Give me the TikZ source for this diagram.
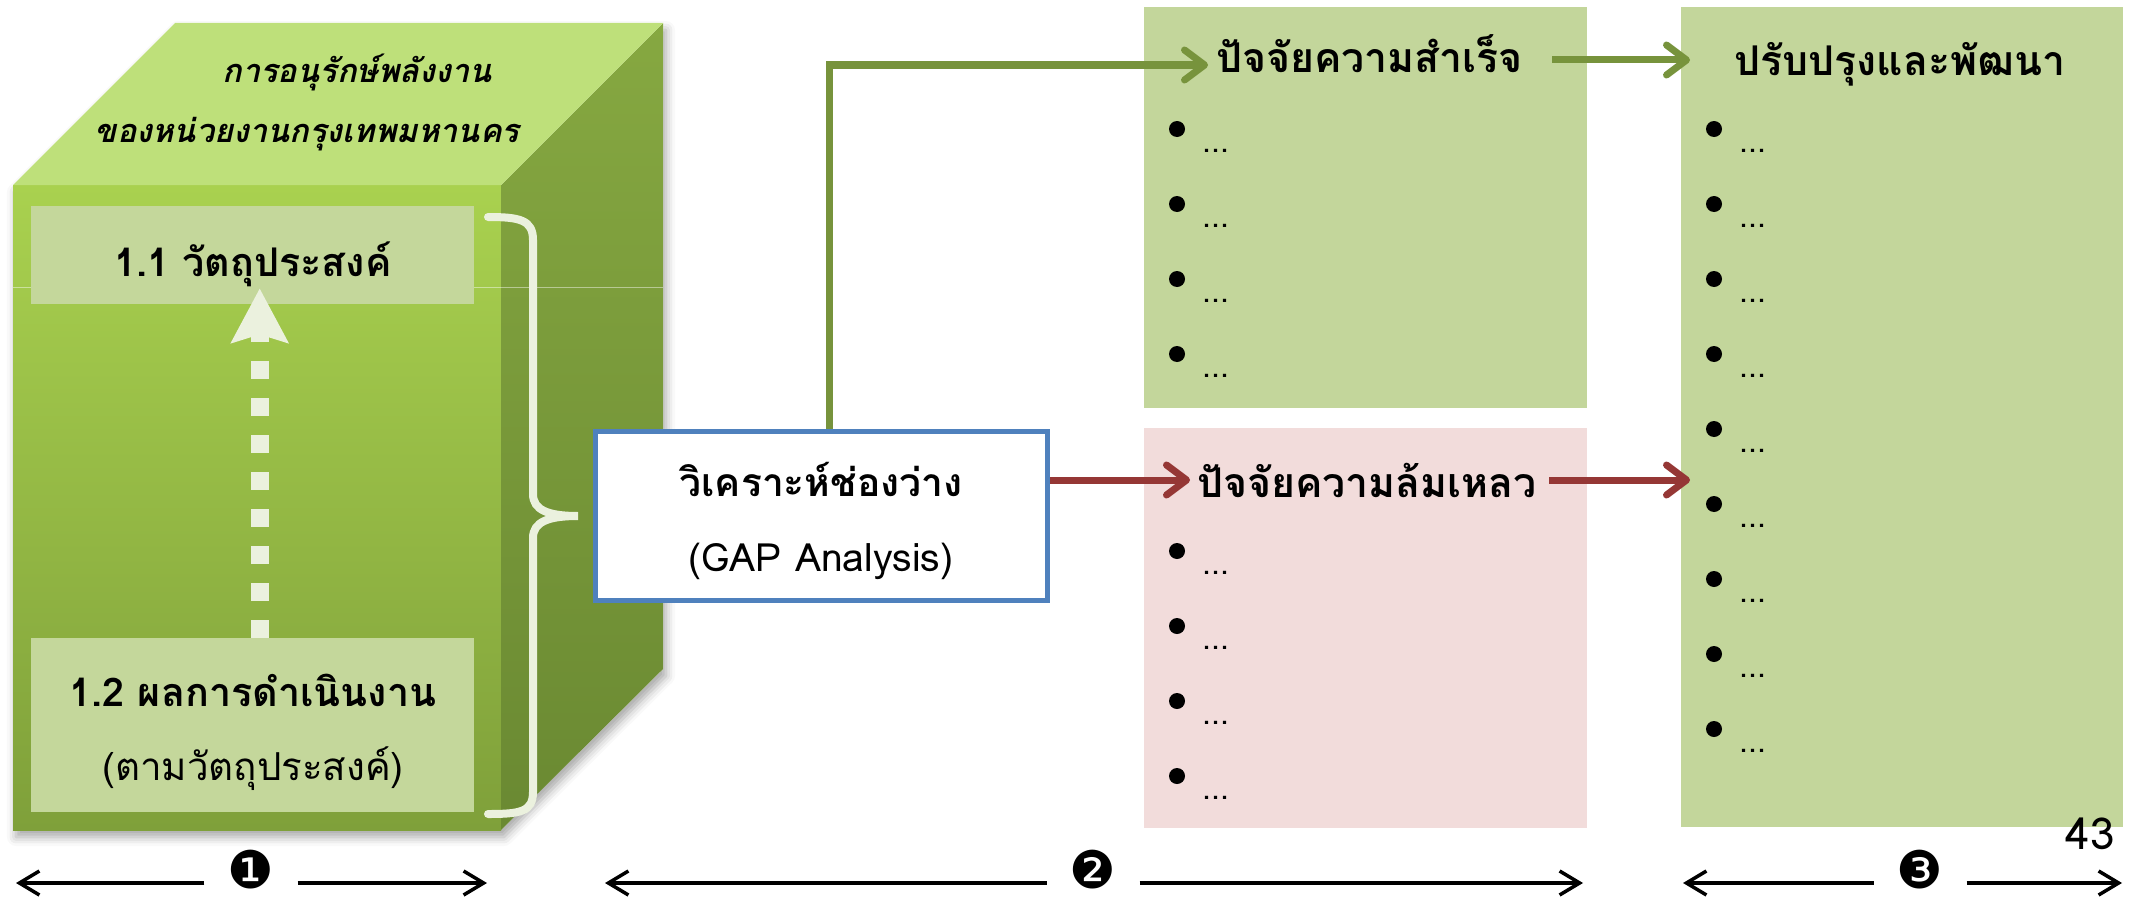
\documentclass[tikz,border=0pt]{standalone}
\usepackage{fontspec}
\usetikzlibrary{arrows.meta,shadows.blur,calc}
\newfontfamily\thai[Script=Thai]{Loma}
\newfontfamily\thaisl[Script=Thai,FakeSlant=0.22]{Loma}
\newfontfamily\dingfont{DejaVu Sans}
\newcommand{\fsz}[1]{\fontsize{#1}{#1}\selectfont}
\definecolor{olive}{HTML}{77933C}
\definecolor{darkred}{HTML}{953735}
\definecolor{gapblue}{HTML}{4F81BD}
\definecolor{lightolive}{HTML}{C3D69B}
\definecolor{pinkfill}{HTML}{F2DCDB}
\definecolor{cubetop}{HTML}{BEE07A}
\definecolor{fronttop}{HTML}{A9D14F}
\definecolor{frontbot}{HTML}{7FA03A}
\definecolor{sidetop}{HTML}{86A841}
\definecolor{sidebot}{HTML}{6A8932}
\definecolor{paleline}{HTML}{EBF1DE}
\definecolor{innerbox}{HTML}{C4D79B}
\begin{document}
\begin{tikzpicture}[x=1pt,y=-1pt,
  titlef/.style={font=\thai\bfseries\fsz{#1}, inner sep=0pt},
  slantf/.style={font=\thaisl\bfseries\fsz{#1}, inner sep=0pt},
  plainf/.style={font=\thai\fsz{#1}, inner sep=0pt},
  panel/.style={draw=none, inner sep=0pt, anchor=north west},
  oliveline/.style={draw=olive, line width=7pt, -{Straight Barb[length=20pt,width=30pt,round]}},
  redline/.style={draw=darkred, line width=7pt, -{Straight Barb[length=20pt,width=30pt,round]}},
  dimline/.style={line width=3.5pt, -{Straight Barb[length=20pt,width=24pt]}},
  numf/.style={font=\dingfont\fsz{52}, inner sep=0pt, inner xsep=23pt},
  bulletdot/.style={fill=black},
  dotsf/.style={font=\thai\fsz{32}, inner sep=0pt, anchor=base west}
]
\useasboundingbox (0,0) rectangle (2140,899);

% ---------- cube ----------
\fill[white, blur shadow={shadow xshift=3pt, shadow yshift=-7pt, shadow blur radius=9pt, shadow opacity=35}]
  (13,185) -- (175,23) -- (663,23) -- (663,669) -- (501,830) -- (13,830) -- cycle;
\shade[top color=fronttop, bottom color=frontbot] (13,185) rectangle (501,830);
\shade[top color=sidetop, bottom color=sidebot] (501,185) -- (663,23) -- (663,669) -- (501,830) -- cycle;
\fill[cubetop] (13,185) -- (175,23) -- (663,23) -- (501,185) -- cycle;
\draw[white, opacity=0.45, line width=1pt] (13,287) -- (663,287);

\node[slantf=32.5, anchor=base] (ct1) at (357,82) {การอนุรักษ์พลังงาน};
\node[slantf=32.5, anchor=base] (ct2) at (307,142) {ของหน่วยงานกรุงเทพมหานคร};

\node[panel, fill=innerbox, minimum width=443pt, minimum height=98pt] (obj) at (31,206) {};
\node[panel, fill=innerbox, minimum width=443pt, minimum height=174pt] (res) at (31,638) {};
\node[titlef=39.5, anchor=base] (objt) at (253,276) {1.1 วัตถุประสงค์};
\node[titlef=39.5, anchor=base] (rest1) at (253,706) {1.2 ผลการดำเนินงาน};
\node[plainf=38.5, anchor=base] (rest2) at (253,780) {(ตามวัตถุประสงค์)};

\draw[paleline, line width=18pt, dash pattern=on 18pt off 19pt,
  -{Stealth[length=54pt,width=56pt,inset=8pt]}] ([xshift=7pt]res.north) -- ([xshift=7pt,yshift=16pt]obj.south);

\draw[paleline, line width=8pt, line cap=round]
  (488,217) .. controls (520,217) and (533,220) .. (533,240) -- (533,494)
  .. controls (533,510) and (548,516) .. (578,516)
  .. controls (548,516) and (533,522) .. (533,538) -- (533,792)
  .. controls (533,812) and (520,814) .. (488,814);

% ---------- GAP box ----------
\node[draw=gapblue, line width=5pt, fill=white, minimum width=452pt, minimum height=169pt, inner sep=0pt] (gap) at (821.5,516) {};
\node[titlef=39, anchor=base] (gapt1) at (821,496) {วิเคราะห์ช่องว่าง};
\node[plainf=39, anchor=base] (gapt2) at (821,571) {(GAP Analysis)};

% ---------- right panels ----------
\node[panel, fill=lightolive, minimum width=443pt, minimum height=401pt] (sbox) at (1144,7) {};
\node[panel, fill=pinkfill, minimum width=443pt, minimum height=400pt] (fbox) at (1144,428) {};
\node[panel, fill=lightolive, minimum width=442pt, minimum height=820pt] (rbox) at (1681,7) {};

\node[titlef=41, anchor=base west] (succ) at (1216,73) {ปัจจัยความสำเร็จ};
\node[titlef=41, anchor=base west] (fail) at (1197,497) {ปัจจัยความล้มเหลว};
\node[titlef=41, anchor=base] (impr) at (1900,75) {ปรับปรุงและพัฒนา};

\foreach \i in {0,...,3} {
  \fill[bulletdot] (1177,129+75*\i) circle (8);
  \node[dotsf] (sd\i) at (1202,152+75*\i) {...};
  \fill[bulletdot] (1177,551+75*\i) circle (8);
  \node[dotsf] (fd\i) at (1202,574+75*\i) {...};
}
\foreach \i in {0,...,8} {
  \fill[bulletdot] (1714,129+75*\i) circle (8);
  \node[dotsf] (rd\i) at (1739,152+75*\i) {...};
}

% ---------- connectors ----------
\coordinate (g1end) at ($(succ.base west)+(-8,-8)$);
\draw[oliveline] ([xshift=8pt]gap.north) |- (g1end);
\coordinate (g2end) at ($(rbox.west |- impr.base)+(9,-15)$);
\draw[oliveline] ($(succ.east |- g2end)+(29,0)$) -- (g2end);

\coordinate (r1end) at ($(fail.base west)+(-7,-17)$);
\draw[redline] (gap.east |- r1end) -- (r1end);
\coordinate (r2end) at ($(rbox.west |- r1end)+(9,0)$);
\draw[redline] ($(fail.east |- r1end)+(12,0)$) -- (r2end);

% ---------- bottom scale ----------
\node[numf] (n1) at (251,870) {❶};
\node[numf] (n2) at (1093,870) {❷};
\node[numf] (n3) at (1920,870) {❸};
\coordinate (a1l) at (16,883);  \coordinate (a1r) at (487,883);
\coordinate (a2l) at (605,883); \coordinate (a2r) at (1583,883);
\coordinate (a3l) at (1683,883); \coordinate (a3r) at (2122,883);
\draw[dimline] (n1.west |- a1l) -- (a1l);
\draw[dimline] (n1.east |- a1r) -- (a1r);
\draw[dimline] (n2.west |- a2l) -- (a2l);
\draw[dimline] (n2.east |- a2r) -- (a2r);
\draw[dimline] (n3.west |- a3l) -- (a3l);
\draw[dimline] (n3.east |- a3r) -- (a3r);

\node[plainf=44, anchor=base east] (pgnum) at (2115,849) {43};
\end{tikzpicture}
\end{document}
